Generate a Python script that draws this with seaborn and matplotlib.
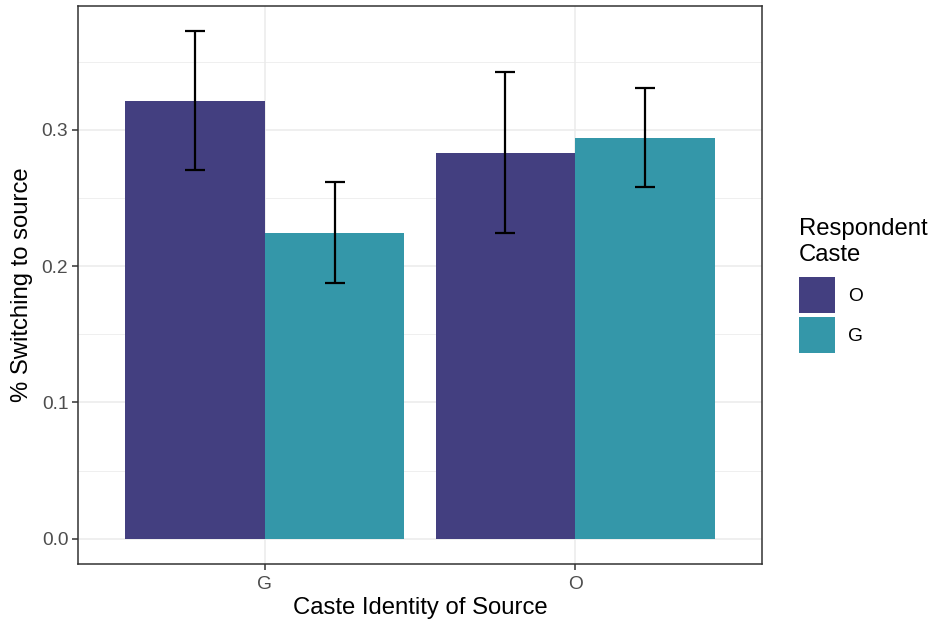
import numpy as np
import pandas as pd
import matplotlib
matplotlib.use("Agg")
import matplotlib.pyplot as plt
import seaborn as sns
from matplotlib.ticker import MultipleLocator, FormatStrFormatter
from matplotlib.patches import Patch

# Share of respondents switching to the source, by caste of source and respondent
source_caste = ["G", "G", "O", "O"]
respondent_caste = ["O", "G", "O", "G"]
switch_share = [0.3211, 0.2245, 0.2832, 0.2941]
ci_low = [0.2707, 0.1873, 0.2241, 0.2583]
ci_high = [0.3723, 0.2619, 0.3424, 0.3305]

source_order = ["G", "O"]
respondent_order = ["O", "G"]
palette = {"O": "#433F80", "G": "#3497A9"}

df = pd.DataFrame({
    "source": source_caste,
    "respondent": respondent_caste,
    "share": switch_share,
    "low": ci_low,
    "high": ci_high,
})

sns.set_theme(style="white")
plt.rcParams["font.family"] = ["Liberation Sans", "DejaVu Sans"]
plt.rcParams["text.color"] = "black"

TICK_FS = 13.8
TITLE_FS = 17.2

fig = plt.figure(figsize=(9.36, 6.23), dpi=100)
ax = fig.add_axes([78 / 936, 1 - 564 / 623, (762 - 78) / 936, (564 - 6) / 623])

sns.barplot(
    data=df, x="source", y="share", hue="respondent",
    order=source_order, hue_order=respondent_order,
    palette=palette, errorbar=None, width=0.9, gap=0,
    saturation=1, linewidth=0, ax=ax, legend=False,
)

# error bars centred on each drawn bar (patches come hue level by hue level)
ordered = (df.set_index(["respondent", "source"])
             .loc[[(r, s) for r in respondent_order for s in source_order]]
             .reset_index())
for patch, (_, row) in zip(ax.patches, ordered.iterrows()):
    xc = patch.get_x() + patch.get_width() / 2
    ax.errorbar(
        xc, row["share"],
        yerr=[[row["share"] - row["low"]], [row["high"] - row["share"]]],
        fmt="none", ecolor="black", elinewidth=1.6, capsize=7.5, capthick=1.6,
        zorder=5,
    )

# axis limits with 5% padding on y, 0.6 on discrete x
ymax = max(ci_high)
pad = ymax * 0.05
ax.set_ylim(-pad, ymax + pad)
ax.set_xlim(-0.6, 1.6)

ax.yaxis.set_major_locator(MultipleLocator(0.1))
ax.yaxis.set_minor_locator(MultipleLocator(0.05))
ax.yaxis.set_major_formatter(FormatStrFormatter("%.1f"))

ax.set_axisbelow(True)
ax.grid(which="major", color="#EBEBEB", linewidth=1.1)
ax.grid(which="minor", axis="y", color="#EBEBEB", linewidth=0.55)

for s in ax.spines.values():
    s.set_color("#333333")
    s.set_linewidth(1.1)

ax.tick_params(axis="both", which="major", length=4, width=1.1, color="#333333",
               labelsize=TICK_FS, labelcolor="#4D4D4D", bottom=True, left=True)
ax.tick_params(axis="x", which="major", pad=4.5)
ax.tick_params(axis="y", which="major", pad=3)
ax.tick_params(axis="y", which="minor", length=0)

ax.set_xlabel("Caste Identity of Source", fontsize=TITLE_FS, color="black", labelpad=3)
ax.set_ylabel("% Switching to source", fontsize=TITLE_FS, color="black", labelpad=6)

handles = [Patch(facecolor=palette[k], edgecolor="none") for k in respondent_order]
leg = fig.legend(
    handles, respondent_order, title="Respondent\nCaste",
    loc="upper left", bbox_to_anchor=(799 / 936, 1 - 218 / 623),
    frameon=False, fontsize=TICK_FS, title_fontsize=TITLE_FS,
    handlelength=1.875, handleheight=2.51, handletextpad=0.68,
    labelspacing=0.21, borderaxespad=0, borderpad=0,
)
leg.get_title().set_linespacing(1.25)
leg.get_title().set_color("black")
for t in leg.get_texts():
    t.set_color("black")
leg._legend_box.align = "left"
leg._legend_box.sep = 8

fig.savefig("out.png", dpi=100)
